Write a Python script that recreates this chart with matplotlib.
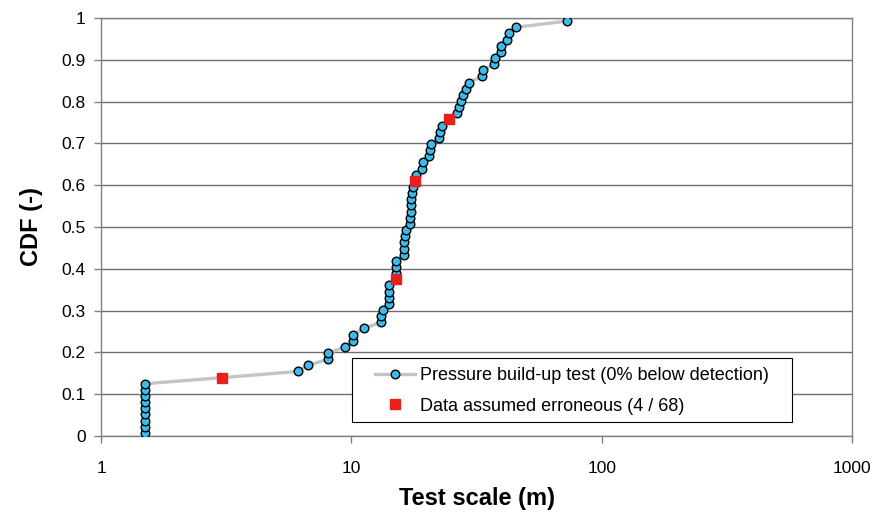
import numpy as np
import matplotlib
matplotlib.use("Agg")
import matplotlib.pyplot as plt
from matplotlib.patches import Rectangle

plt.rcParams['font.family'] = ['Liberation Sans', 'DejaVu Sans']

# Sorted test scales (m) from the pressure build-up tests
test_scale = [
    1.5, 1.5, 1.5, 1.5, 1.5, 1.5, 1.5, 1.5, 1.5,
    3.05, 6.1, 6.7, 8.1, 8.1, 9.45, 10.2, 10.2, 11.2,
    13.1, 13.1, 13.35, 14.2, 14.2, 14.2, 14.2,
    15.1, 15.1, 15.1, 15.1,
    16.2, 16.2, 16.3, 16.4, 16.6,
    17.2, 17.2, 17.3, 17.3, 17.3, 17.4, 17.6,
    18.0, 18.2, 19.2, 19.3, 20.5, 20.7, 20.9,
    22.3, 22.7, 23.1, 24.5,
    26.4, 27.0, 27.4, 27.9, 28.6, 29.5,
    33.2, 33.6, 37.3, 37.5, 39.5, 39.5, 41.8, 42.7, 45.6, 72.7,
]
# Ranks of the values flagged as erroneous
erroneous_idx = [9, 25, 41, 51]

x_ticks = [1, 10, 100, 1000]
x_tick_labels = ["1", "10", "100", "1000"]
y_ticks = [0, 0.1, 0.2, 0.3, 0.4, 0.5, 0.6, 0.7, 0.8, 0.9, 1]
y_tick_labels = ["0", "0.1", "0.2", "0.3", "0.4", "0.5", "0.6", "0.7", "0.8", "0.9", "1"]

series_label = "Pressure build-up test (0% below detection)"
err_label = "Data assumed erroneous (4 / 68)"

x = np.array(test_scale)
n = len(x)
cdf = (np.arange(n) + 0.5) / n  # empirical plotting positions

fig = plt.figure(figsize=(8.72, 5.16), dpi=100)
ax = fig.add_axes([101 / 872, 80 / 516, 751 / 872, 418 / 516])

ax.plot(x, cdf, color='#c4c4c4', lw=2.4, marker='o', markersize=6.2,
        markerfacecolor='#3dbbe8', markeredgecolor='black', markeredgewidth=1.0,
        label=series_label, zorder=3)
ax.plot(x[erroneous_idx], cdf[erroneous_idx], linestyle='none', marker='s',
        markersize=6.5, markerfacecolor='#e8201c', markeredgecolor='#e8201c',
        label=err_label, zorder=4)

ax.set_xscale('log')
ax.set_xlim(1, 1000)
ax.set_ylim(0, 1)
ax.set_xticks(x_ticks)
ax.set_xticklabels(x_tick_labels)
ax.xaxis.set_minor_locator(matplotlib.ticker.NullLocator())
ax.set_yticks(y_ticks)
ax.set_yticklabels(y_tick_labels)

ax.grid(axis='y', color='#6e6e6e', lw=1.0)
ax.set_axisbelow(True)
for s in ax.spines.values():
    s.set_color('#808080')
    s.set_linewidth(1.0)

ax.tick_params(axis='both', direction='out', length=5, width=1, color='#808080',
               labelsize=12.5, pad=6)
ax.tick_params(axis='x', pad=13)

ax.set_xlabel("Test scale (m)", fontsize=17, fontweight='bold', labelpad=8)
ax.set_ylabel("CDF (-)", fontsize=17, fontweight='bold', labelpad=13)

# Legend box drawn as its own rectangle, entries placed inside it
ax.add_patch(Rectangle((0.334, 0.0335), 0.586, 0.1535, transform=ax.transAxes,
                       facecolor='white', edgecolor='black', lw=0.8, zorder=5))
leg = ax.legend(loc='center left', bbox_to_anchor=(0.365, 0.1077), fontsize=13,
                frameon=False, borderpad=0, handlelength=2.2, handletextpad=0.3,
                labelspacing=0.75, borderaxespad=0)
leg.set_zorder(6)

fig.savefig("out.png", dpi=100)
